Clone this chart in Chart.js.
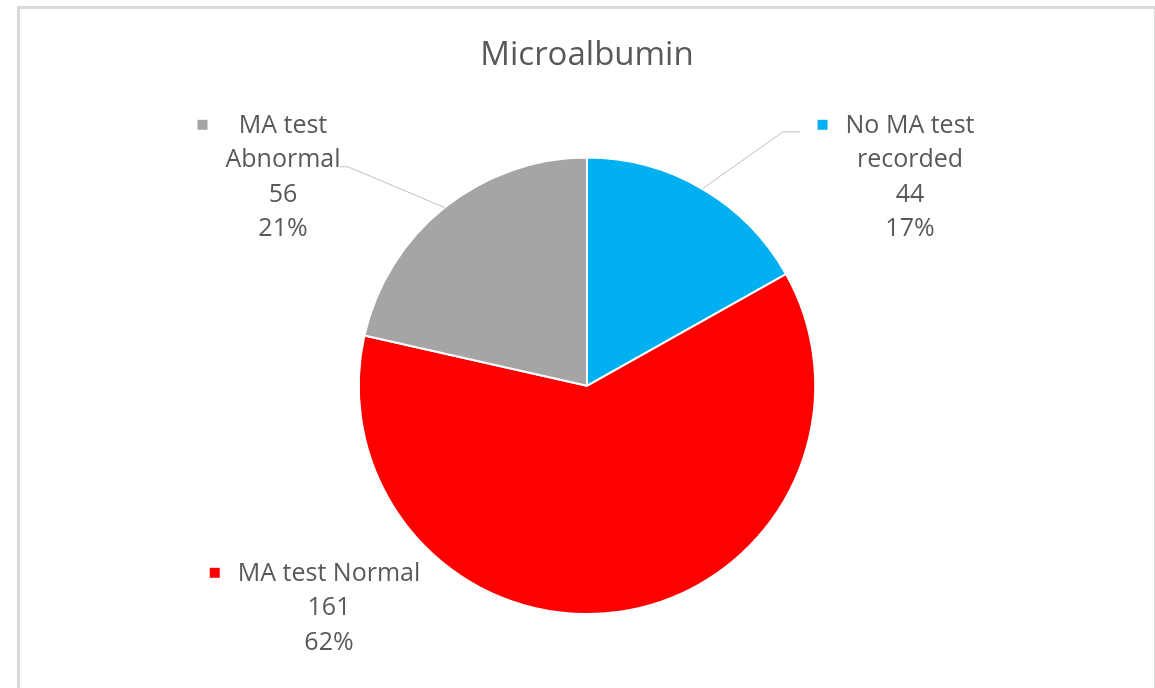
<!DOCTYPE html>
<html lang="en">
<head>
<meta charset="UTF-8">
<title>Microalbumin</title>
<script src="https://cdn.jsdelivr.net/npm/chart.js"></script>
<style>
  body { margin: 0; background: #fff; }
  .frame { position: absolute; left: 17px; top: 6px; width: 1134px; height: 700px;
           border: 3px solid #d9d9d9; border-right-width: 2px; }
  .wrap { position: absolute; left: 0; top: 0; width: 1155px; height: 688px; }
</style>
</head>
<body>
<div class="frame"></div>
<div class="wrap"><canvas id="pie" width="1155" height="688"></canvas></div>
<script>
// data
const categories = ['No MA test recorded', 'MA test Normal', 'MA test Abnormal'];
const counts = [44, 161, 56];
const percents = ['17%', '62%', '21%'];
const sliceColors = ['#00B0F0', '#FF0000', '#A5A5A5'];
// how the category names wrap in the data labels
const labelLines = [['No MA test', 'recorded'], ['MA test Normal'], ['MA test', 'Abnormal']];

// where each label block sits, relative to the pie centre (dx = text centre, dy = first line)
// leader = [elbowX, elbowY, endX] relative to the same point
const labelPos = [
    { dx: 323, dy: -260, leader: [-127, 6, -110] },
    { dx: -258, dy: 188, leader: null },
    { dx: -304, dy: -260, leader: [65, 41, 57] }
];

const textColor = '#595959';

// draws the data labels with their little legend keys and leader lines
const sliceLabels = {
    id: 'sliceLabels',
    afterDatasetsDraw(chart) {
        const ctx = chart.ctx;
        const arcs = chart.getDatasetMeta(0).data;
        const cx = arcs[0].x, cy = arcs[0].y, r = arcs[0].outerRadius;
        ctx.save();
        ctx.font = '25px "Open Sans"';
        ctx.textAlign = 'center';
        ctx.textBaseline = 'middle';
        labelPos.forEach((p, i) => {
            const lines = [...labelLines[i], String(counts[i]), percents[i]];
            const x = cx + p.dx, y0 = cy + p.dy;
            if (p.leader) {
                const a = (arcs[i].startAngle + arcs[i].endAngle) / 2;
                ctx.strokeStyle = '#bfbfbf';
                ctx.lineWidth = 1;
                ctx.beginPath();
                ctx.moveTo(cx + r * Math.cos(a), cy + r * Math.sin(a));
                ctx.lineTo(x + p.leader[0], y0 + p.leader[1]);
                ctx.lineTo(x + p.leader[2], y0 + p.leader[1]);
                ctx.stroke();
            }
            const widest = Math.max(...lines.map(t => ctx.measureText(t).width));
            ctx.fillStyle = sliceColors[i];
            ctx.fillRect(x - widest / 2 - 28, y0 - 6, 10, 10);
            ctx.fillStyle = textColor;
            lines.forEach((t, k) => ctx.fillText(t, x, y0 + k * 34.5));
        });
        ctx.restore();
    }
};

Chart.defaults.font.family = '"Open Sans"';
Chart.defaults.color = textColor;

const pieChart = new Chart(document.getElementById('pie'), {
    type: 'pie',
    data: {
        labels: categories,
        datasets: [{
            data: counts,
            backgroundColor: sliceColors,
            borderColor: '#ffffff',
            borderWidth: 2
        }]
    },
    options: {
        responsive: false,
        animation: false,
        layout: { padding: { left: 19, right: 0, top: 0, bottom: 73 } },
        plugins: {
            legend: { display: false },
            tooltip: { enabled: false },
            title: {
                display: true,
                text: 'Microalbumin',
                color: textColor,
                font: { size: 33, weight: 'normal', lineHeight: 1.2 },
                padding: { top: 36, bottom: 81 }
            }
        }
    },
    plugins: [sliceLabels]
});
</script>
</body>
</html>
